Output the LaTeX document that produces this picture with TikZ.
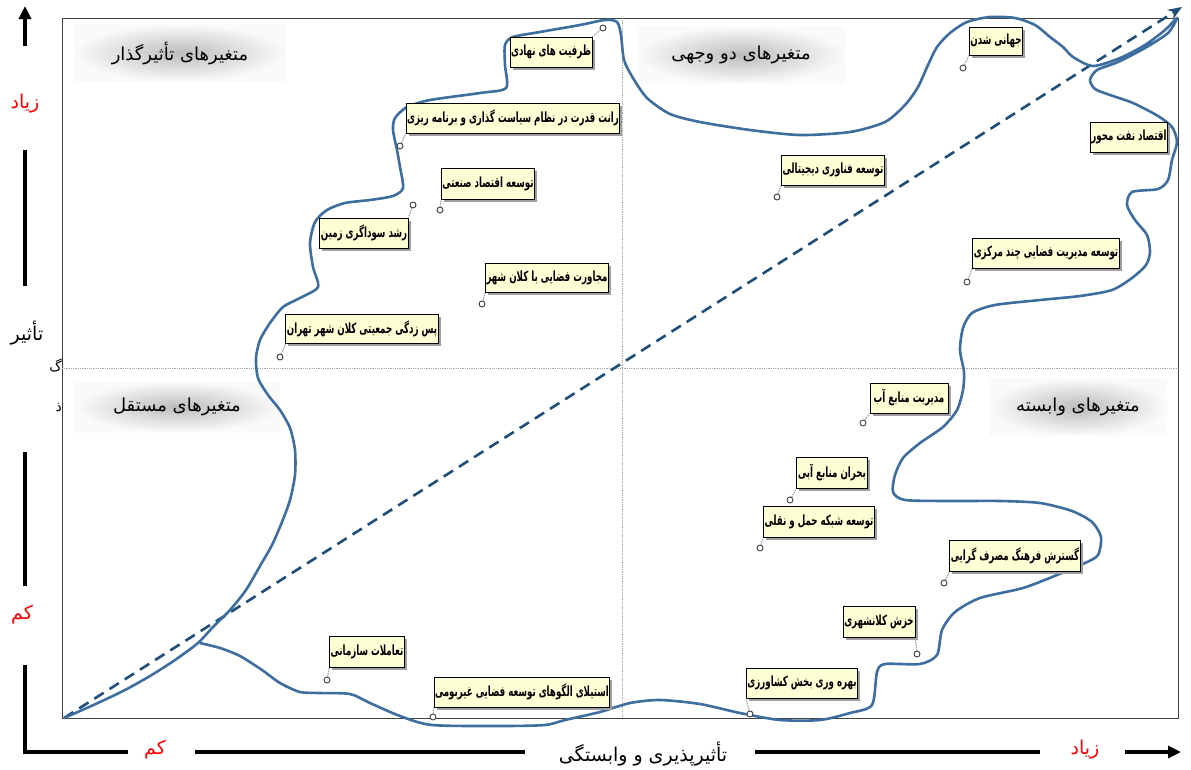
\documentclass[tikz,border=0pt]{standalone}
\usepackage{fontspec}
\usetikzlibrary{shadows,arrows.meta}
\TeXXeTstate=1
\newfontfamily\fa[Script=Arabic]{DejaVu Sans}
\newfontfamily\fab[Script=Arabic,FakeStretch=0.62]{DejaVu Sans}
\definecolor{curveblue}{RGB}{62,110,160}
\definecolor{dashblue}{RGB}{31,78,121}
\definecolor{lblfill}{RGB}{255,255,214}
\definecolor{axred}{RGB}{255,0,0}
\tikzset{
  lbl/.style={draw=black, line width=0.9, fill=lblfill, inner sep=1pt,
    font=\fab\bfseries\fontsize{14}{15}\selectfont,
    drop shadow={shadow xshift=2.5pt, shadow yshift=-2.5pt, fill=gray!75, opacity=1}},
  pinpt/.style={circle, draw=gray!50!black, fill=white, line width=0.9, inner sep=0pt, minimum size=6},
  leader/.style={draw=gray!70, line width=1.3, densely dotted},
  tbox/.style={inner sep=0pt, inner color=gray!52, outer color=gray!4,
    font=\fa\fontsize{18}{21}\selectfont},
  axline/.style={line width=3.5, black},
  axtxt/.style={font=\fa\fontsize{19}{22}\selectfont},
  frame/.style={draw=black!75, line width=1},
  midline/.style={draw=gray!70, line width=0.8, densely dotted},
}
\begin{document}
\begin{tikzpicture}[x=1pt,y=-1pt]
\useasboundingbox (0,0) rectangle (1191,769);
\fill[white] (0,0) rectangle (1191,769);

% frame and mid lines
\coordinate (fTL) at (62,18);
\coordinate (fBR) at (1178,718);
\draw[frame] (fTL) rectangle (fBR);
\coordinate (vT) at (622,18); \coordinate (vB) at (622,718);
\coordinate (hL) at (62,368); \coordinate (hR) at (1178,368);
\draw[midline] (vT) -- (vB);
\draw[midline] (hL) -- (hR);
\node[anchor=east, inner sep=0pt, font=\fa\fontsize{14}{16}\selectfont] (g1) at (62,366) {\beginR گ\endR};
\node[anchor=east, inner sep=0pt, font=\fa\fontsize{14}{16}\selectfont] (g2) at (62,408) {\beginR ذ\endR};

% quadrant titles
\node[tbox, minimum width=212, minimum height=57] (t1) at (180,53) {\beginR متغیرهای تأثیرگذار\endR};
\node[tbox, minimum width=208, minimum height=57] (t2) at (741,55) {\beginR متغیرهای دو وجهی\endR};
\node[tbox, minimum width=205, minimum height=50] (t3) at (177,407) {\beginR متغیرهای مستقل\endR};
\node[tbox, minimum width=177, minimum height=57] (t4) at (1078,407) {\beginR متغیرهای وابسته\endR};

% diagonal
\coordinate (dA) at (64,718);
\coordinate (dB) at (1182,7);
\draw[dashblue, line width=2.6, dash pattern=on 11pt off 7pt, -{Stealth[length=14pt,width=11pt]}] (dA) -- (dB);

% boundary curve
\draw[curveblue, line width=2.6, line join=round] plot[smooth, tension=0.45] coordinates {
(64,718) (80,711) (100,702) (125,690) (150,676) (175,660) (198,643)
(212,628) (230,610) (246,590) (260,566) (272,545) (282,522) (290,500) (295,475) (295,450)
(290,428) (280,410) (268,395) (258,378) (256,358) (260,340) (270,323) (283,307) (300,298)
(318,287) (313,267) (310,243) (315,222) (327,210) (345,203) (370,200) (393,196) (403,188)
(400,167) (397,150) (393,130) (395,118) (407,107) (430,100) (480,93) (506,88) (505,65)
(505,45) (513,37) (540,32) (580,25) (605,20) (617,22) (621,35) (624,60) (633,78) (647,98)
(670,114) (700,122) (750,130) (800,135) (850,132) (885,122) (905,105) (918,87) (928,65)
(937,47) (950,33) (967,22) (990,17) (1015,18) (1035,25) (1050,37) (1063,47) (1073,57)
(1093,66) (1120,58) (1145,45) (1165,30) (1177,18) (1168,33) (1145,48) (1118,62) (1097,70)
(1090,80) (1095,89) (1110,95) (1133,103) (1158,116) (1172,127) (1177,142) (1172,160)
(1168,180) (1158,189) (1132,192) (1127,205) (1135,220) (1147,235) (1150,252) (1146,265)
(1132,278) (1112,290) (1080,296) (1040,300) (995,305) (972,313) (963,328) (960,350)
(964,372) (963,390) (957,410) (943,427) (920,443) (903,458) (895,475) (893,492) (905,500)
(950,501) (1000,501) (1040,503) (1072,511) (1092,522) (1101,537) (1098,555) (1085,563)
(1057,575) (1023,588) (980,598) (955,612) (942,630) (937,655) (920,664) (885,664) (877,672)
(872,705) (850,713) (820,720) (780,720) (740,713) (700,704) (660,700) (630,703) (600,712)
(565,720) (545,725) (500,726) (432,725) (400,716) (370,703) (350,694) (320,693) (300,692)
(280,683) (262,670) (240,656) (220,648) (200,643)};

% labels
\node[lbl, minimum width=82, minimum height=30] (n1) at (551,52) {\beginR ظرفیت های نهادی\endR};
\node[lbl, minimum width=210, minimum height=30] (n2) at (513,118) {\beginR رانت قدرت در نظام سیاست گذاری و برنامه ریزی\endR};
\node[lbl, minimum width=87, minimum height=31] (n3) at (488,184) {\beginR توسعه اقتصاد صنعتی\endR};
\node[lbl, minimum width=88, minimum height=30] (n4) at (364,233) {\beginR رشد سوداگری زمین\endR};
\node[lbl, minimum width=119, minimum height=29] (n5) at (547,278) {\beginR مجاورت فضایی با کلان شهر\endR};
\node[lbl, minimum width=151, minimum height=29] (n6) at (362,329) {\beginR پس زدگی جمعیتی کلان شهر تهران\endR};
\node[lbl, minimum width=53, minimum height=28] (n7) at (996,41) {\beginR جهانی شدن\endR};
\node[lbl, minimum width=75, minimum height=30] (n8) at (1129,137) {\beginR اقتصاد نفت محور\endR};
\node[lbl, minimum width=100, minimum height=30] (n9) at (833,170) {\beginR توسعه فناوری دیجیتالی\endR};
\node[lbl, minimum width=146, minimum height=30] (n10) at (1046,253) {\beginR توسعه مدیریت فضایی چند مرکزی\endR};
\node[lbl, minimum width=78, minimum height=30] (n11) at (909,398) {\beginR مدیریت منابع آب\endR};
\node[lbl, minimum width=71, minimum height=31] (n12) at (832,473) {\beginR بحران منابع آبی\endR};
\node[lbl, minimum width=105, minimum height=31] (n13) at (819,522) {\beginR توسعه شبکه حمل و نقلی\endR};
\node[lbl, minimum width=129, minimum height=31] (n14) at (1015,556) {\beginR گسترش فرهنگ مصرف گرایی\endR};
\node[lbl, minimum width=72, minimum height=31] (n15) at (879,622) {\beginR خزش کلانشهری\endR};
\node[lbl, minimum width=110, minimum height=30] (n16) at (802,683) {\beginR بهره وری بخش کشاورزی\endR};
\node[lbl, minimum width=69, minimum height=31] (n17) at (367,652) {\beginR تعاملات سازمانی\endR};
\node[lbl, minimum width=167, minimum height=30] (n18) at (522,692) {\beginR استیلای الگوهای توسعه فضایی غیربومی\endR};

% pins
\node[pinpt] (p1) at (603,28) {};
\node[pinpt] (p2) at (400,146) {};
\node[pinpt] (p3) at (440,210) {};
\node[pinpt] (p4) at (413,205) {};
\node[pinpt] (p5) at (482,304) {};
\node[pinpt] (p6) at (280,357) {};
\node[pinpt] (p7) at (963,68) {};
\node[pinpt] (p9) at (777,197) {};
\node[pinpt] (p10) at (967,282) {};
\node[pinpt] (p11) at (863,423) {};
\node[pinpt] (p12) at (790,500) {};
\node[pinpt] (p13) at (760,548) {};
\node[pinpt] (p14) at (944,583) {};
\node[pinpt] (p15) at (917,654) {};
\node[pinpt] (p16) at (750,714) {};
\node[pinpt] (p17) at (327,680) {};
\node[pinpt] (p18) at (433,717) {};
\draw[leader] (p1) -- (n1.north east);
\draw[leader] (p2) -- (n2.south west);
\draw[leader] (p3) -- (n3.south west);
\draw[leader] (p4) -- (n4.north east);
\draw[leader] (p5) -- (n5.south west);
\draw[leader] (p6) -- (n6.south west);
\draw[leader] (p7) -- (n7.south west);
\draw[leader] (p9) -- (n9.south west);
\draw[leader] (p10) -- (n10.south west);
\draw[leader] (p11) -- (n11.south west);
\draw[leader] (p12) -- (n12.south west);
\draw[leader] (p13) -- (n13.south west);
\draw[leader] (p14) -- (n14.south west);
\draw[leader] (p15) -- (n15.south east);
\draw[leader] (p16) -- (n16.south west);
\draw[leader] (p17) -- (n17.south west);
\draw[leader] (p18) -- (n18.south west);

% vertical axis
\coordinate (vA1) at (25,46); \coordinate (vA2) at (25,6);
\draw[axline, -{Triangle[length=13pt,width=12pt]}] (vA1) -- (vA2);
\node[axtxt, text=axred] (vz) at (25,104) {\beginR زیاد\endR};
\coordinate (vL1a) at (25,150); \coordinate (vL1b) at (25,286);
\draw[axline] (vL1a) -- (vL1b);
\node[axtxt] (vt) at (27,333) {\beginR تأثیر\endR};
\coordinate (vL2a) at (25,452); \coordinate (vL2b) at (25,586);
\draw[axline] (vL2a) -- (vL2b);
\node[axtxt, text=axred] (vk) at (22,615) {\beginR کم\endR};
\coordinate (vL3a) at (25,665); \coordinate (corner) at (25,752); \coordinate (hL1b) at (128,752);
\draw[axline, line join=miter] (vL3a) -- (corner) -- (hL1b);

% horizontal axis
\node[axtxt, text=axred] (hk) at (155,750) {\beginR کم\endR};
\coordinate (hL2a) at (195,752); \coordinate (hL2b) at (525,752);
\draw[axline] (hL2a) -- (hL2b);
\node[axtxt] (ht) at (643,754) {\beginR تأثیرپذیری و وابستگی\endR};
\coordinate (hL3a) at (755,752); \coordinate (hL3b) at (1040,752);
\draw[axline] (hL3a) -- (hL3b);
\node[axtxt, text=axred] (hz) at (1085,750) {\beginR زیاد\endR};
\coordinate (hA1) at (1125,752); \coordinate (hA2) at (1181,752);
\draw[axline, -{Triangle[length=13pt,width=12pt]}] (hA1) -- (hA2);
\end{tikzpicture}
\end{document}
